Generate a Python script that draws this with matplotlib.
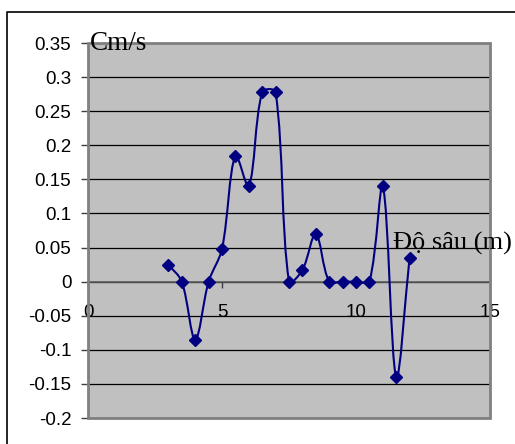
import matplotlib
matplotlib.use('Agg')
import matplotlib.pyplot as plt
import numpy as np
from matplotlib.path import Path
from matplotlib.patches import PathPatch, Rectangle
from matplotlib.lines import Line2D

# depth (m) vs velocity (cm/s)
depth = [3.0, 3.5, 4.0, 4.5, 5.0, 5.5, 6.0, 6.5, 7.0, 7.5,
         8.0, 8.5, 9.0, 9.5, 10.0, 10.5, 11.0, 11.5, 12.0]
speed = [0.025, 0.0, -0.085, 0.0, 0.048, 0.185, 0.14, 0.278, 0.278, 0.0,
         0.017, 0.07, 0.0, 0.0, 0.0, 0.0, 0.14, -0.14, 0.035]

y_ticks = [-0.2, -0.15, -0.1, -0.05, 0, 0.05, 0.1, 0.15, 0.2, 0.25, 0.3, 0.35]
y_labels = ['-0.2', '-0.15', '-0.1', '-0.05', '0', '0.05', '0.1', '0.15',
            '0.2', '0.25', '0.3', '0.35']
x_ticks = [0, 5, 10, 15]
x_labels = ['0', '5', '10', '15']

W, H = 515, 444
fig = plt.figure(figsize=(W / 100, H / 100), dpi=100)
fig.patch.set_facecolor('white')

# outer chart frame (left and top edges)
fig.add_artist(Line2D([7 / W, 7 / W, 1.0], [0.0, 1 - 12 / H, 1 - 12 / H],
                      transform=fig.transFigure, color='black', lw=1.2))

ax = fig.add_axes([88 / W, (H - 418) / H, (490 - 88) / W, (418 - 43) / H])
ax.set_facecolor('#c0c0c0')
ax.set_xlim(0, 15)
ax.set_ylim(-0.2, 0.35)

for s in ['top', 'right', 'left']:
    ax.spines[s].set_visible(False)
ax.spines['bottom'].set_position(('data', 0))
ax.spines['bottom'].set_color('#606060')
ax.spines['bottom'].set_linewidth(1.2)

# plot area border
ax.add_patch(Rectangle((0, 0), 1, 1, transform=ax.transAxes, fill=False,
                       edgecolor='#808080', lw=2, zorder=5, clip_on=False))

ax.set_yticks(y_ticks)
ax.set_yticklabels(y_labels, fontfamily='Liberation Sans', fontsize=13.5)
ax.set_xticks(x_ticks)
ax.set_xticklabels(x_labels, fontfamily='Liberation Sans', fontsize=13.5)
ax.tick_params(axis='y', direction='out', length=5, width=1, color='#404040', pad=7)
ax.tick_params(axis='x', direction='out', length=4, width=1, color='#404040', pad=12)
ax.yaxis.grid(True, color='black', lw=0.9)
ax.set_axisbelow(True)

# smoothed curve: cubic Bezier, tangents weighted by segment lengths on screen
pts = ax.transData.transform(np.column_stack([depth, speed]))
n = len(pts)
verts = [pts[0]]
codes = [Path.MOVETO]
for i in range(n - 1):
    p0 = pts[i - 1] if i > 0 else pts[i]
    p1 = pts[i]
    p2 = pts[i + 1]
    p3 = pts[i + 2] if i + 2 < n else pts[i + 1]
    d01 = np.hypot(*(p1 - p0))
    d12 = np.hypot(*(p2 - p1))
    d23 = np.hypot(*(p3 - p2))
    k1 = d12 / (d01 + d12) / 3.0 if d01 + d12 > 0 else 0
    k2 = d12 / (d12 + d23) / 3.0 if d12 + d23 > 0 else 0
    c1 = p1 + (p2 - p0) * k1
    c2 = p2 - (p3 - p1) * k2
    verts += [c1, c2, p2]
    codes += [Path.CURVE4] * 3
verts = ax.transData.inverted().transform(np.array(verts))
ax.add_patch(PathPatch(Path(verts, codes), fill=False, edgecolor='#000080',
                       lw=1.5, zorder=3))
ax.plot(depth, speed, ls='none', marker='D', ms=6, color='#000080', zorder=4)

fig.text(90 / W, 1 - 50 / H, 'Cm/s', fontfamily='Liberation Serif',
         fontsize=19.5, va='baseline', ha='left')
fig.text(393 / W, 1 - 250 / H, 'Độ sâu (m)', fontfamily='Liberation Serif',
         fontsize=19, va='baseline', ha='left')

fig.savefig('out.png', dpi=100)
